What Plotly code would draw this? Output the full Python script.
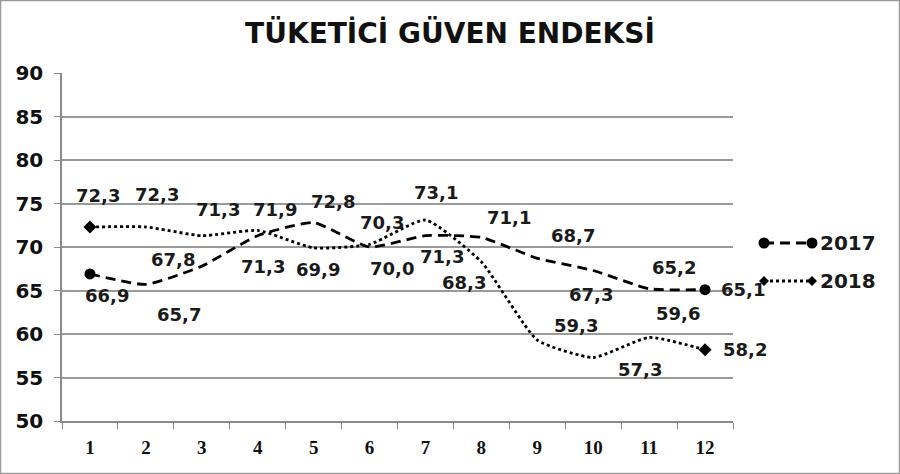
import plotly.graph_objects as go

months = ["1", "2", "3", "4", "5", "6", "7", "8", "9", "10", "11", "12"]
y2017 = [66.9, 65.7, 67.8, 71.3, 72.8, 70.0, 71.3, 71.1, 68.7, 67.3, 65.2, 65.1]
y2018 = [72.3, 72.3, 71.3, 71.9, 69.9, 70.3, 73.1, 68.3, 59.3, 57.3, 59.6, 58.2]

# label offsets in pixels (dx, dy) as placed in the original chart
off2017 = [(17, -22), (33, -30), (-29, 7), (5, -31), (19, 21), (22, -21),
           (17, -21), (28, 20), (36, 23), (-2, -24), (25, 21), (38, 0)]
off2018 = [(8, 31), (11, 32), (16, 26), (17, 21), (4, -22), (12, 22),
           (11, 28), (-17, -21), (39, 15), (47, -12), (29, 24), (40, 0)]

FONT = "DejaVu Sans"
W, H = 900, 474
L, R, T, B = 62, 167, 73, 53
PW, PH = W - L - R, H - T - B
DASH = "10px,6px"
DOT = "3px,3px"


def px(x):
    return (x - L) / PW


def py(y):
    return (H - B - y) / PH


fig = go.Figure()
for name, vals, dash, sym, size in (("2017", y2017, DASH, "circle", 11),
                                    ("2018", y2018, DOT, "diamond", 10)):
    fig.add_trace(go.Scatter(
        x=months, y=vals, mode="lines", name=name,
        line=dict(color="black", width=2.8, dash=dash, shape="spline", smoothing=0.5),
        showlegend=False, hoverinfo="skip",
    ))
    # only the first and last month carry a marker
    fig.add_trace(go.Scatter(
        x=[months[0], months[-1]], y=[vals[0], vals[-1]], mode="markers",
        marker=dict(symbol=sym, size=size, color="black", line=dict(width=0)),
        showlegend=False, hoverinfo="skip",
    ))

annotations = []
for vals, offs in ((y2017, off2017), (y2018, off2018)):
    for i, (v, (dx, dy)) in enumerate(zip(vals, offs)):
        annotations.append(dict(
            x=i, y=v, xref="x", yref="y", text=f"{v:.1f}".replace(".", ","),
            showarrow=False, xshift=dx, yshift=dy,
            font=dict(family=FONT, size=18, color="#1a1a1a", weight="bold"),
        ))

# manual legend
shapes = []
legend_rows = [("2017", 243, DASH, "circle"), ("2018", 281, DOT, "diamond")]
for name, yy, dash, sym in legend_rows:
    shapes.append(dict(type="line", xref="paper", yref="paper",
                       x0=px(764), x1=px(812), y0=py(yy), y1=py(yy),
                       line=dict(color="black", width=2.8, dash=dash)))
    for cx in (764, 812):
        if sym == "circle":
            shapes.append(dict(type="circle", xref="paper", yref="paper",
                               x0=px(cx - 5.5), x1=px(cx + 5.5),
                               y0=py(yy + 5.5), y1=py(yy - 5.5),
                               fillcolor="black", line=dict(color="black", width=0)))
        else:
            d = 5
            path = (f"M {px(cx - d)} {py(yy)} L {px(cx)} {py(yy - d)} "
                    f"L {px(cx + d)} {py(yy)} L {px(cx)} {py(yy + d)} Z")
            shapes.append(dict(type="path", xref="paper", yref="paper", path=path,
                               fillcolor="black", line=dict(color="black", width=0)))
    annotations.append(dict(
        x=px(818), y=py(yy), xref="paper", yref="paper", text=name,
        xanchor="left", yanchor="middle", showarrow=False,
        font=dict(family=FONT, size=20, color="#1a1a1a", weight="bold"),
    ))

# outer frame
shapes.append(dict(type="rect", xref="paper", yref="paper",
                   x0=px(0.5), x1=px(W - 0.5), y0=py(H - 0.5), y1=py(0.5),
                   line=dict(color="#9a9a9a", width=1.5)))

fig.update_layout(
    width=W, height=H,
    margin=dict(l=L, r=R, t=T, b=B),
    paper_bgcolor="white", plot_bgcolor="white",
    title=dict(text="TÜKETİCİ GÜVEN ENDEKSİ", x=0.5, xanchor="center",
               y=1 - 33 / H, yanchor="middle",
               font=dict(family=FONT, size=28, color="#111111", weight="bold")),
    annotations=annotations,
    shapes=shapes,
)
fig.update_xaxes(
    type="category", tickson="boundaries", ticks="outside", ticklen=6,
    range=[-0.5, 11.5],
    tickcolor="#8a8a8a", showline=True, linecolor="#8a8a8a", linewidth=1.5,
    showgrid=False, tickfont=dict(family="Liberation Serif", size=19, color="#111111", weight="bold"),
    ticklabelstandoff=8,
)
fig.update_yaxes(
    range=[50, 90], dtick=5, ticks="outside", ticklen=6, tickcolor="#8a8a8a",
    showline=True, linecolor="#8a8a8a", linewidth=1.5,
    showgrid=True, gridcolor="#9a9a9a", gridwidth=1.5, zeroline=False,
    tickfont=dict(family=FONT, size=20, color="#111111", weight="bold"),
    ticklabelstandoff=7,
)

fig.write_html("out.html", config={"displayModeBar": False},
               post_script="document.body.style.margin='0';")
